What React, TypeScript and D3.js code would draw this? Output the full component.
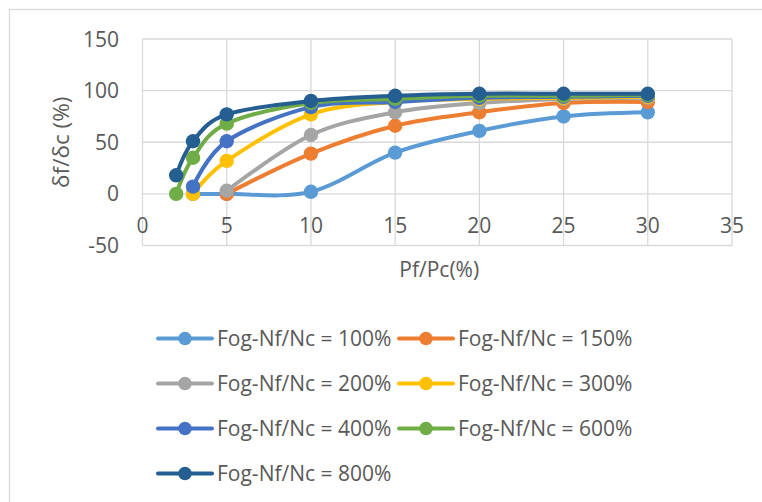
import React from 'react';
import * as d3 from 'd3';

// series data
const seriesNames = [
  'Fog-Nf/Nc = 100%',
  'Fog-Nf/Nc = 150%',
  'Fog-Nf/Nc = 200%',
  'Fog-Nf/Nc = 300%',
  'Fog-Nf/Nc = 400%',
  'Fog-Nf/Nc = 600%',
  'Fog-Nf/Nc = 800%',
];
const seriesColors = ['#5B9BD5', '#ED7D31', '#A5A5A5', '#FFC000', '#4472C4', '#70AD47', '#255E91'];

const pf100 = [3, 5, 10, 15, 20, 25, 30];
const df100 = [0, 0, 2, 40, 61, 75, 79];
const pf150 = [5, 10, 15, 20, 25, 30];
const df150 = [0, 39, 66, 79, 88, 89];
const pf200 = [5, 10, 15, 20, 25, 30];
const df200 = [3, 57, 79, 88, 92, 93];
const pf300 = [3, 5, 10, 15, 20, 25, 30];
const df300 = [0, 32, 77, 89, 92, 93, 94];
const pf400 = [3, 5, 10, 15, 20, 25, 30];
const df400 = [7, 51, 84, 89, 93, 94, 95];
const pf600 = [2, 3, 5, 10, 15, 20, 25, 30];
const df600 = [0, 35, 68, 88, 92, 95, 95, 96];
const pf800 = [2, 3, 5, 10, 15, 20, 25, 30];
const df800 = [18, 51, 77, 90, 95, 97, 97, 97];

const xTicks = [0, 5, 10, 15, 20, 25, 30, 35];
const yTicks = [-50, 0, 50, 100, 150];

const xs = [pf100, pf150, pf200, pf300, pf400, pf600, pf800];
const ys = [df100, df150, df200, df300, df400, df600, df800];

const W = 762;
const H = 502;
const FONT = '"Open Sans", sans-serif';
const TXT = '#595959';
const GRID = '#d9d9d9';

const x = d3.scaleLinear().domain([0, 35]).range([142.5, 732]);
const y = d3.scaleLinear().domain([-50, 150]).range([245.5, 39]);

const line = d3
  .line<[number, number]>()
  .x((d) => x(d[0]))
  .y((d) => y(d[1]))
  .curve(d3.curveCardinal.tension(0));

export default function App() {
  const series = seriesNames.map((name, i) => ({
    name,
    color: seriesColors[i],
    pts: xs[i].map((v, j) => [v, ys[i][j]] as [number, number]),
  }));

  return (
    <svg width={W} height={H} style={{ display: 'block', position: 'absolute', left: 0, top: 0 }}>
      <rect x={0} y={0} width={W} height={H} fill="#fff" />
      {/* chart frame, runs off the page */}
      <rect x={9.5} y={9.5} width={900} height={700} fill="none" stroke={GRID} strokeWidth={1.3} />

      {/* gridlines */}
      <g stroke={GRID} strokeWidth={1.3}>
        {xTicks.map((t) => (
          <line key={'vx' + t} x1={x(t)} x2={x(t)} y1={y(150)} y2={y(-50)} />
        ))}
        {yTicks.map((t) => (
          <line key={'hy' + t} x1={x(0)} x2={x(35)} y1={y(t)} y2={y(t)} />
        ))}
      </g>

      {/* tick labels */}
      <g fontFamily={FONT} fontSize={21} fill={TXT}>
        {yTicks.map((t) => (
          <text key={'yl' + t} x={119} y={y(t)} dy="0.36em" textAnchor="end">
            {t}
          </text>
        ))}
        {xTicks.map((t) => (
          <text key={'xl' + t} x={x(t)} y={y(-50) - 12.5} textAnchor="middle">
            {t}
          </text>
        ))}
        <text x={(x(0) + x(35)) / 2 + 2} y={277} textAnchor="middle">
          Pf/Pc(%)
        </text>
        <text
          transform={`translate(69, ${(y(150) + y(-50)) / 2}) rotate(-90)`}
          textAnchor="middle"
          fontSize={22.5}
        >
          δf/δc (%)
        </text>
      </g>

      {/* series */}
      {series.map((s) => (
        <g key={s.name}>
          <path d={line(s.pts) || ''} fill="none" stroke={s.color} strokeWidth={4} strokeLinecap="round" />
          {s.pts.map((p, j) => (
            <circle key={j} cx={x(p[0])} cy={y(p[1])} r={7.2} fill={s.color} />
          ))}
        </g>
      ))}

      {/* legend */}
      <g fontFamily={FONT} fontSize={21} fill={TXT}>
        {series.map((s, i) => {
          const lx = 158 + (i % 2) * 241;
          const ly = 338.5 + Math.floor(i / 2) * 45;
          return (
            <g key={'lg' + i}>
              <line x1={lx} x2={lx + 54} y1={ly} y2={ly} stroke={s.color} strokeWidth={4} strokeLinecap="round" />
              <circle cx={lx + 27} cy={ly} r={6.8} fill={s.color} />
              <text x={lx + 59} y={ly} dy="0.36em">
                {s.name}
              </text>
            </g>
          );
        })}
      </g>
    </svg>
  );
}
